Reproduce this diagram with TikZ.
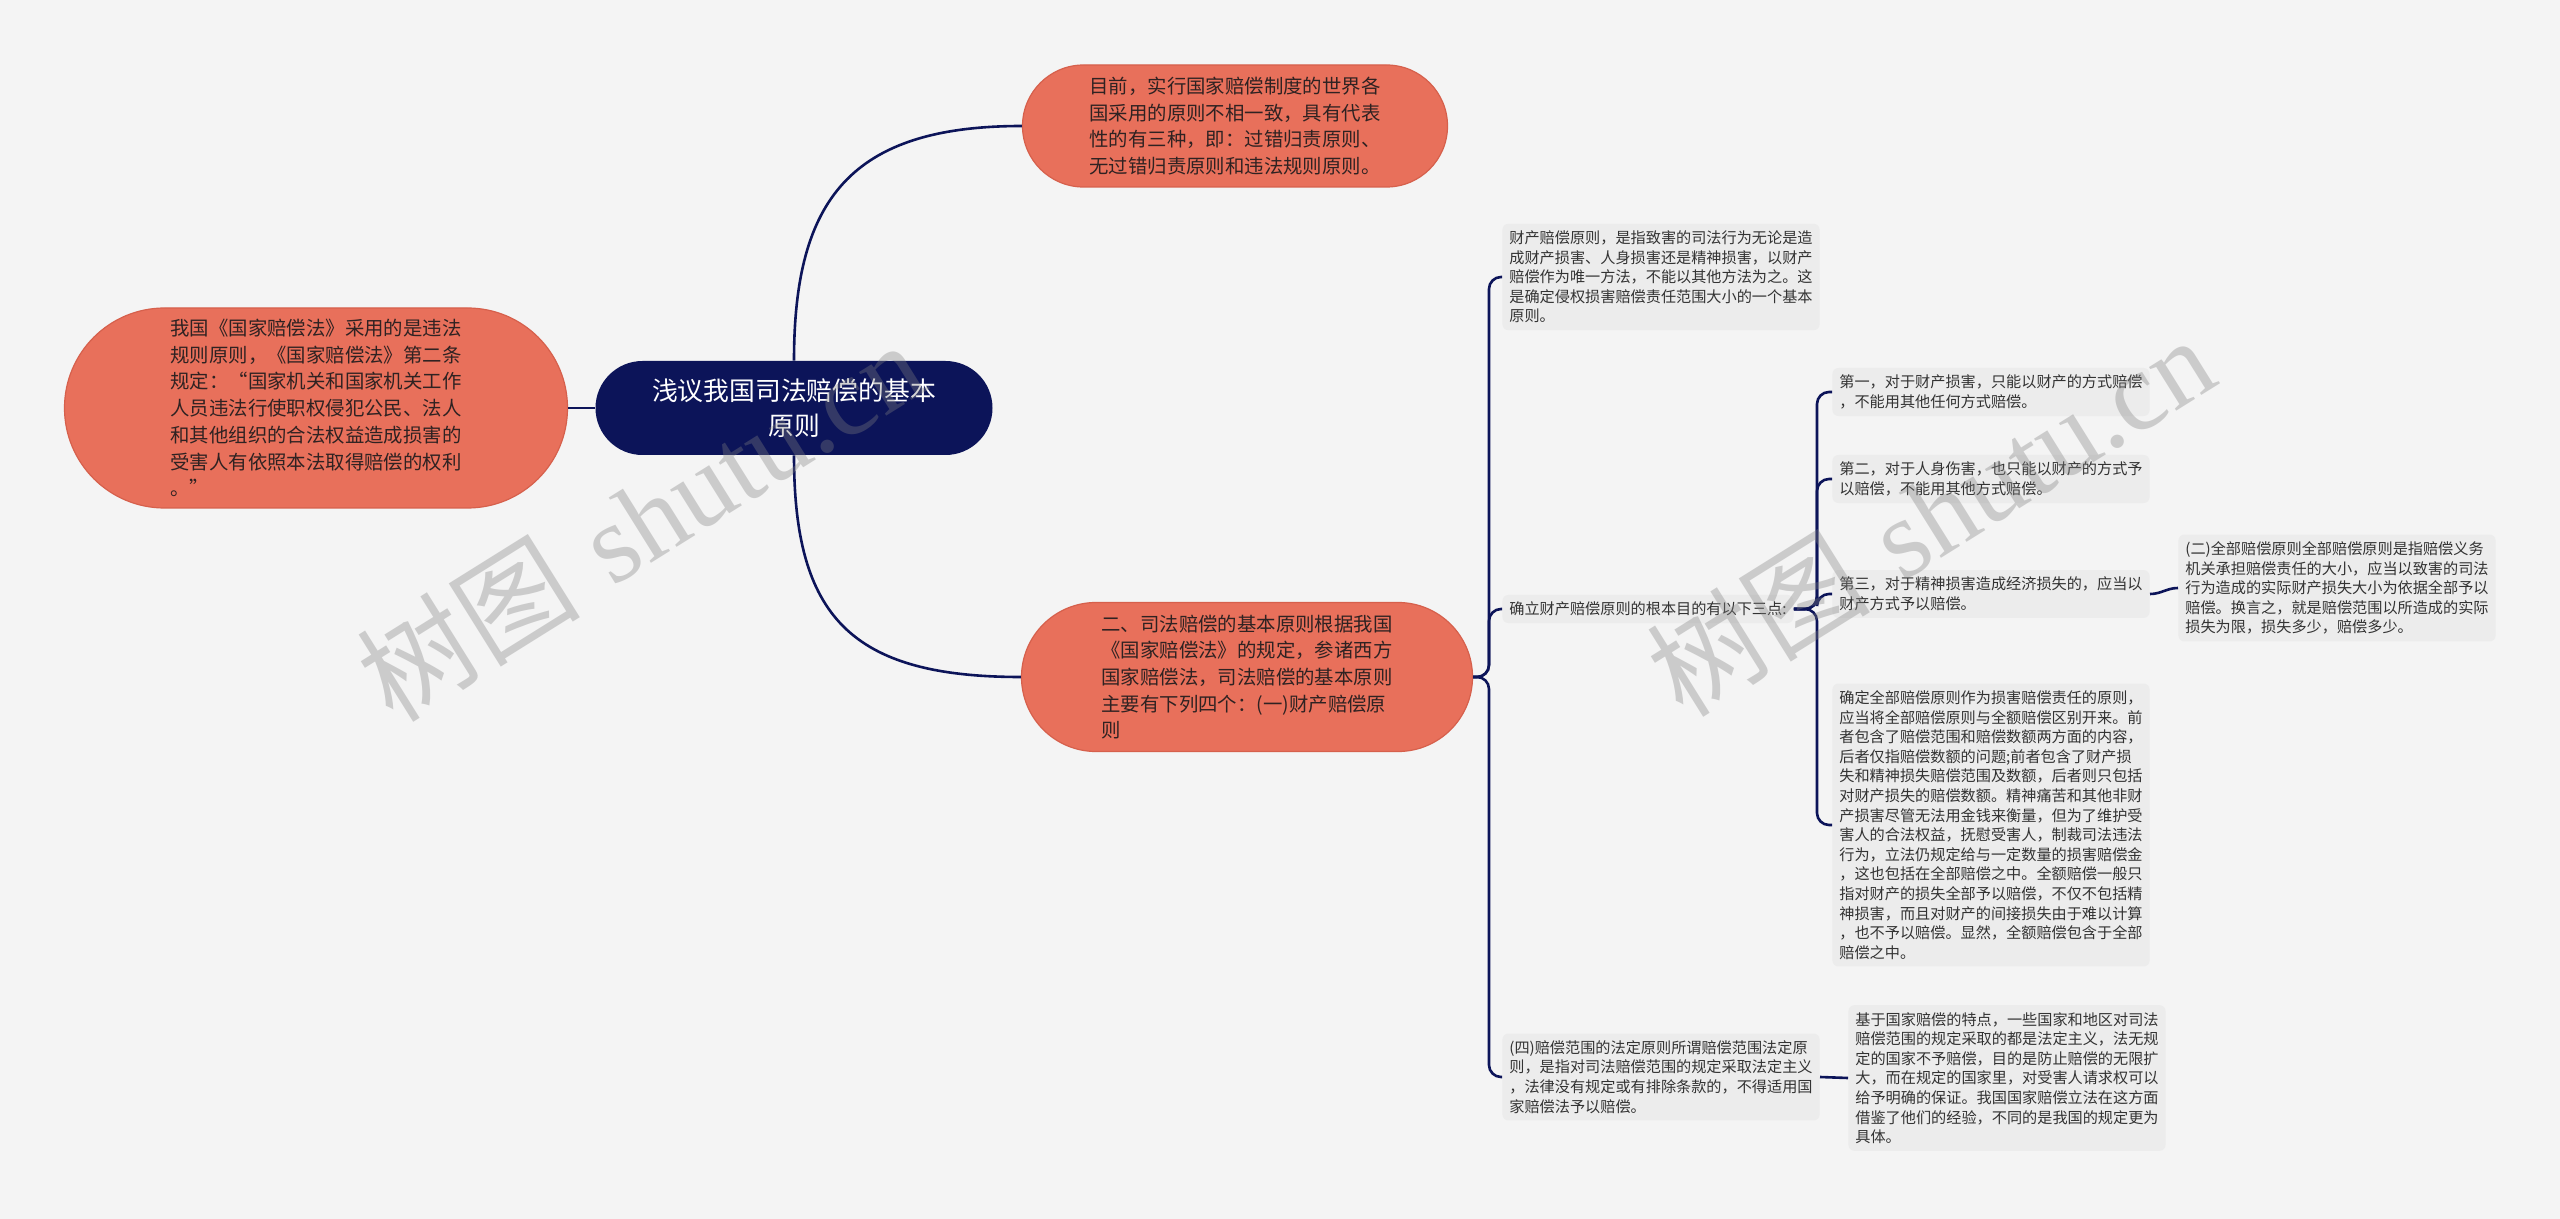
\documentclass[tikz,border=0pt]{standalone}
\usepackage{fontspec}
\newfontfamily\cjk{Noto Sans CJK SC}
\newfontfamily\wmserif{Liberation Serif}
\definecolor{bgC}{HTML}{F4F4F4}
\definecolor{navyC}{HTML}{0C1459}
\definecolor{orangeC}{HTML}{E8705B}
\definecolor{orangeB}{HTML}{D6604C}
\definecolor{orangeT}{HTML}{2F2222}
\definecolor{leafC}{HTML}{ECECEC}
\definecolor{leafT}{HTML}{333333}
\begin{document}
\begin{tikzpicture}[x=0.5pt,y=-0.5pt,
  conn/.style={draw=navyC, line width=1.3pt},
  orangebox/.style={fill=orangeC, draw=orangeB, line width=0.6pt, text=orangeT,
    font=\cjk\fontsize{9.7}{13.35}\selectfont, align=left, inner sep=0pt},
  rootbox/.style={fill=navyC, text=white, font=\cjk\fontsize{12.9}{17.5}\selectfont,
    align=center, minimum width=198.5pt, minimum height=47pt, rounded corners=23.5pt, inner sep=0pt},
  leaf/.style={fill=leafC, text=leafT, font=\cjk\fontsize{7.58}{9.8}\selectfont,
    align=left, inner xsep=3.5pt, inner ysep=3.5pt, rounded corners=3pt, anchor=west},
  leafw/.style={leaf, minimum width=158pt},
  wm/.style={text=gray, opacity=0.35, font=\fontsize{56}{60}\selectfont, inner sep=0pt}
]
\useasboundingbox (0,0) rectangle (2560,1219);
\fill[bgC] (0,0) rectangle (2560,1219);

% main nodes
\node[rootbox] (root) at (794,408) {浅议我国司法赔偿的基本\\原则};
\node[orangebox, minimum width=212.5pt, minimum height=61pt, rounded corners=30.5pt] (top) at (1235,126)
 {目前，实行国家赔偿制度的世界各\\国采用的原则不相一致，具有代表\\性的有三种，即：过错归责原则、\\无过错归责原则和违法规则原则。};
\node[orangebox, minimum width=251.5pt, minimum height=100pt, rounded corners=50pt] (left) at (316,408)
 {我国《国家赔偿法》采用的是违法\\规则原则，《国家赔偿法》第二条\\规定：“国家机关和国家机关工作\\人员违法行使职权侵犯公民、法人\\和其他组织的合法权益造成损害的\\受害人有依照本法取得赔偿的权利\\。”};
\node[orangebox, minimum width=225.5pt, minimum height=74.5pt, rounded corners=37.25pt] (bot) at (1247,677)
 {二、司法赔偿的基本原则根据我国\\《国家赔偿法》的规定，参诸西方\\国家赔偿法，司法赔偿的基本原则\\主要有下列四个：(一)财产赔偿原\\则};

% level 3
\node[leafw] (n31) at (1502,277)
 {财产赔偿原则，是指致害的司法行为无论是造\\成财产损害、人身损害还是精神损害，以财产\\赔偿作为唯一方法，不能以其他方法为之。这\\是确定侵权损害赔偿责任范围大小的一个基本\\原则。};
\node[leaf] (n32) at (1502,609) {确立财产赔偿原则的根本目的有以下三点:};
\node[leafw] (n33) at (1502,1077)
 {(四)赔偿范围的法定原则所谓赔偿范围法定原\\则，是指对司法赔偿范围的规定采取法定主义\\，法律没有规定或有排除条款的，不得适用国\\家赔偿法予以赔偿。};

% level 4
\node[leafw] (n41) at (1832,392) {第一，对于财产损害，只能以财产的方式赔偿\\，不能用其他任何方式赔偿。};
\node[leafw] (n42) at (1832,479) {第二，对于人身伤害，也只能以财产的方式予\\以赔偿，不能用其他方式赔偿。};
\node[leafw] (n43) at (1832,594) {第三，对于精神损害造成经济损失的，应当以\\财产方式予以赔偿。};
\node[leafw] (n44) at (1832,825)
 {确定全部赔偿原则作为损害赔偿责任的原则，\\应当将全部赔偿原则与全额赔偿区别开来。前\\者包含了赔偿范围和赔偿数额两方面的内容，\\后者仅指赔偿数额的问题;前者包含了财产损\\失和精神损失赔偿范围及数额，后者则只包括\\对财产损失的赔偿数额。精神痛苦和其他非财\\产损害尽管无法用金钱来衡量，但为了维护受\\害人的合法权益，抚慰受害人，制裁司法违法\\行为，立法仍规定给与一定数量的损害赔偿金\\，这也包括在全部赔偿之中。全额赔偿一般只\\指对财产的损失全部予以赔偿，不仅不包括精\\神损害，而且对财产的间接损失由于难以计算\\，也不予以赔偿。显然，全额赔偿包含于全部\\赔偿之中。};

% level 5
\node[leafw] (n51) at (2178,588)
 {(二)全部赔偿原则全部赔偿原则是指赔偿义务\\机关承担赔偿责任的大小，应当以致害的司法\\行为造成的实际财产损失大小为依据全部予以\\赔偿。换言之，就是赔偿范围以所造成的实际\\损失为限，损失多少，赔偿多少。};
\node[leafw] (n52) at (1848,1078)
 {基于国家赔偿的特点，一些国家和地区对司法\\赔偿范围的规定采取的都是法定主义，法无规\\定的国家不予赔偿，目的是防止赔偿的无限扩\\大，而在规定的国家里，对受害人请求权可以\\给予明确的保证。我国国家赔偿立法在这方面\\借鉴了他们的经验，不同的是我国的规定更为\\具体。};

% connectors
\draw[conn] (root.north) .. controls (794,200) and (850,126) .. (top.west);
\draw[conn] (root.south) .. controls (794,616) and (850,677) .. (bot.west);
\draw[conn] (root.west) -- (left.east);

\coordinate (sp3) at (1489,677);
\draw[conn, rounded corners=6pt] (bot.east) -- (sp3) |- (n31.west);
\draw[conn, rounded corners=6pt] (bot.east) -- (sp3) |- (n32.west);
\draw[conn, rounded corners=6pt] (bot.east) -- (sp3) |- (n33.west);

\coordinate (sp4) at (1817,609);
\draw[conn, rounded corners=6pt] (n32.east) -- (sp4) |- (n41.west);
\draw[conn, rounded corners=6pt] (n32.east) -- (sp4) |- (n42.west);
\draw[conn, rounded corners=6pt] (n32.east) -- (sp4) |- (n43.west);
\draw[conn, rounded corners=6pt] (n32.east) -- (sp4) |- (n44.west);

\draw[conn] (n43.east) to[out=0,in=180] (n51.west);
\draw[conn] (n33.east) -- (n52.west);

% watermark
\node[wm, rotate=32] (wm1) at (640,520) {{\cjk 树图} {\wmserif shutu.cn}};
\node[wm, rotate=32] (wm2) at (1930,515) {{\cjk 树图} {\wmserif shutu.cn}};
\end{tikzpicture}
\end{document}
